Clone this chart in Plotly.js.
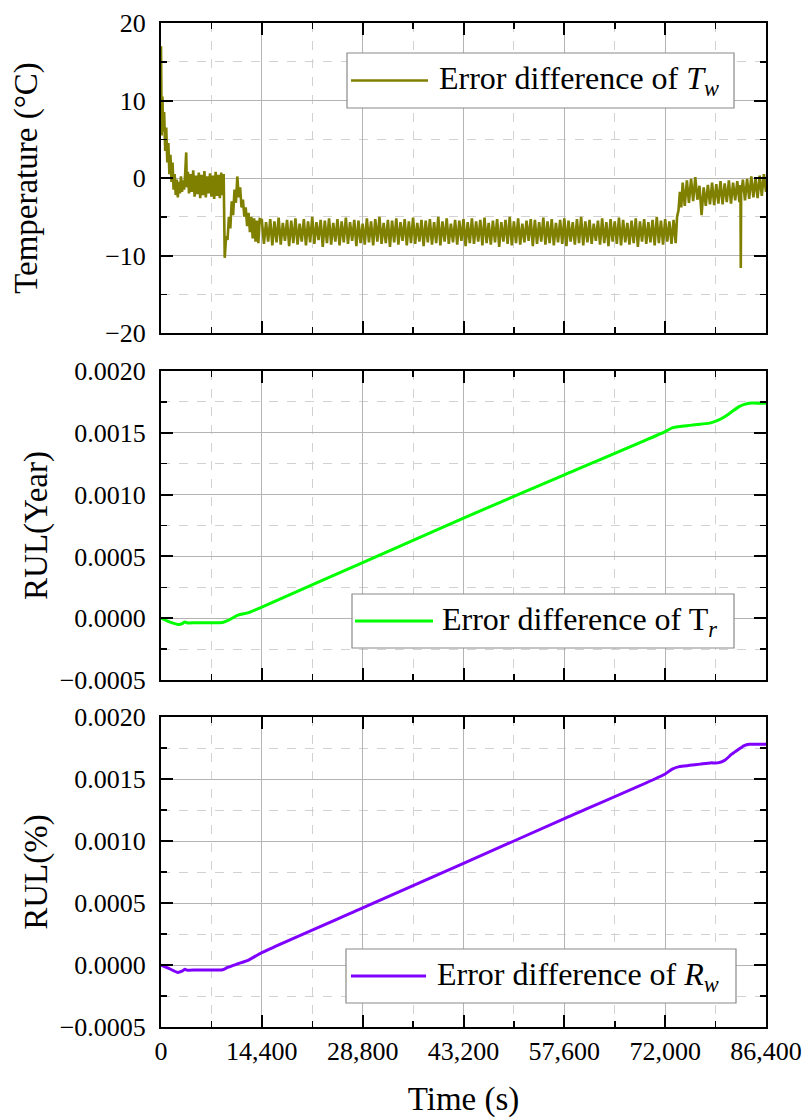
<!DOCTYPE html>
<html>
<head>
<meta charset="utf-8">
<script src="https://cdn.plot.ly/plotly-3.0.1.min.js"></script>
<style>html,body{margin:0;padding:0;background:#fff;}#chart{width:805px;height:1120px;}</style>
</head>
<body>
<div id="chart"></div>
<script>
// ---------- DATA ----------
// Panel 1: error difference of T_w (°C)
const timeTw = [
  0,100,200,300,450,600,750,900,1050,1200,1350,1500,1650,1800,1950,2100,2250,2400,2550,2700,
  2850,3000,3150,3300,3450,3600,3700,3850,4000,4200,4400,4600,4800,5000,5200,5400,5600,5800,6000,6200,
  6400,6600,6800,7000,7200,7400,7600,7800,8000,8200,8400,8600,8800,8950,9100,9300,9500,9700,9900,10100,
  10300,10500,10700,10900,11100,11300,11500,11700,11900,12100,12300,12500,12700,12900,13100,13300,13500,13700,13900,14100,
  14400,14700,15000,15300,15600,15900,16200,16500,16800,17100,
  17400,17700,18000,18300,18600,18900,19200,19500,19800,20100,
  20400,20700,21000,21300,21600,21900,22200,22500,22800,23100,
  23400,23700,24000,24300,24600,24900,25200,25500,25800,26100,
  26400,26700,27000,27300,27600,27900,28200,28500,28800,29100,
  29400,29700,30000,30300,30600,30900,31200,31500,31800,32100,
  32400,32700,33000,33300,33600,33900,34200,34500,34800,35100,
  35400,35700,36000,36300,36600,36900,37200,37500,37800,38100,
  38400,38700,39000,39300,39600,39900,40200,40500,40800,41100,
  41400,41700,42000,42300,42600,42900,43200,43500,43800,44100,
  44400,44700,45000,45300,45600,45900,46200,46500,46800,47100,
  47400,47700,48000,48300,48600,48900,49200,49500,49800,50100,
  50400,50700,51000,51300,51600,51900,52200,52500,52800,53100,
  53400,53700,54000,54300,54600,54900,55200,55500,55800,56100,
  56400,56700,57000,57300,57600,57900,58200,58500,58800,59100,
  59400,59700,60000,60300,60600,60900,61200,61500,61800,62100,
  62400,62700,63000,63300,63600,63900,64200,64500,64800,65100,
  65400,65700,66000,66300,66600,66900,67200,67500,67800,68100,
  68400,68700,69000,69300,69600,69900,70200,70500,70800,71100,
  71400,71700,72000,72300,72600,72900,73200,73500,73700,73900,74100,74300,
  74500,74800,75100,75400,75700,76000,76300,76600,76900,77200,
  77500,77800,78100,78400,78700,79000,79300,79600,79900,80200,
  80500,80800,81100,81400,81700,82000,82300,82600,82750,82800,82850,
  83100,83400,83700,84000,84300,84600,84900,85200,85500,85800,86100,86400
];
const errTw = [
  17,5.5,10.5,6,8.5,3.5,6.5,2,4.5,0.5,3,-0.5,2,-1.5,0.5,-2.2,-0.2,-2.5,-0.5,-2.0,
  0.2,-1.8,-0.3,-1.5,0.5,3.3,-1.2,0.8,-2.0,0.5,-1.8,1.0,-2.4,0.3,-2.1,0.7,-2.6,0.4,-2.2,0.9,
  -2.5,0.2,-2.0,0.6,-2.4,0.3,-2.7,0.8,-2.3,0.4,-2.6,0.7,-2.2,0.5,-10.3,-7.5,-8.0,-5.0,-6.5,-3.0,
  -4.8,-1.5,-3.2,0.2,-2.5,-1.2,-3.8,-2.8,-5.0,-3.8,-6.2,-4.5,-7.0,-5.0,-7.8,-5.2,-8.2,-5.5,-8.4,-5.3,
  -5.4,-8.5,-5.7,-8.2,-5.3,-8.7,-5.6,-8.3,-5.1,-8.6,
  -5.8,-8.1,-5.4,-8.8,-5.5,-8.4,-5.2,-8.6,-5.9,-8.2,
  -5.3,-8.7,-5.6,-8.3,-5.0,-8.5,-5.7,-8.0,-5.4,-8.9,
  -5.5,-8.4,-5.2,-8.6,-5.8,-8.2,-5.3,-8.7,-5.6,-8.3,
  -5.1,-8.5,-5.7,-8.1,-5.4,-8.8,-5.5,-8.4,-5.9,-8.6,
  -5.2,-8.3,-5.6,-8.7,-5.3,-8.2,-5.0,-8.5,-5.8,-8.4,
  -5.4,-8.9,-5.5,-8.3,-5.2,-8.6,-5.7,-8.1,-5.3,-8.7,
  -5.6,-8.4,-5.1,-8.5,-5.8,-8.2,-5.4,-8.8,-5.5,-8.3,
  -5.3,-8.6,-5.7,-8.4,-5.0,-8.7,-5.6,-8.2,-5.2,-8.5,
  -5.9,-8.3,-5.4,-8.6,-5.5,-8.1,-5.3,-8.8,-5.7,-8.4,
  -5.2,-8.5,-5.6,-8.2,-5.4,-8.7,-5.1,-8.4,-5.8,-8.6,
  -5.5,-8.3,-5.3,-8.9,-5.7,-8.2,-5.4,-8.5,-5.0,-8.7,
  -5.6,-8.4,-5.2,-8.6,-5.9,-8.3,-5.5,-8.1,-5.3,-8.8,
  -5.4,-8.5,-5.7,-8.2,-5.1,-8.6,-5.6,-8.4,-5.3,-8.7,
  -5.8,-8.3,-5.4,-8.5,-5.2,-8.8,-5.5,-8.2,-5.7,-8.6,
  -5.3,-8.4,-5.0,-8.7,-5.6,-8.3,-5.4,-8.5,-5.9,-8.1,
  -5.5,-8.6,-5.2,-8.4,-5.7,-8.8,-5.3,-8.2,-5.6,-8.5,
  -5.1,-8.7,-5.4,-8.3,-5.8,-8.6,-5.5,-8.4,-5.2,-8.9,
  -5.6,-8.2,-5.3,-8.5,-5.7,-8.3,-5.4,-8.7,-5.0,-8.4,
  -5.5,-8.6,-5.3,-8.2,-5.6,-8.5,-5.4,-8.4,-5.0,-4.2,-1.8,-3.8,
  -0.6,-3.6,-0.3,-3.2,-0.1,-3.0,0.1,-2.8,-1.0,-4.8,
  -1.2,-3.6,-0.9,-3.4,-0.6,-3.5,-0.8,-3.3,-0.4,-3.4,
  -0.7,-3.1,-0.3,-3.3,-0.6,-2.9,-0.4,-3.1,-0.9,-11.6,-2.0,
  -0.2,-2.9,-0.1,-2.7,0.2,-2.5,0.0,-2.6,0.3,-2.3,0.5,-1.8
];

// Panel 2: error difference of T_r (RUL, year)
const timeTr = [0,1200,2400,3000,3400,3800,5000,7000,8800,9500,11000,12500,14400,28800,43200,57600,72000,73000,74000,75500,77000,78500,79500,80500,81500,82500,83300,84000,85000,86400];
const errTr  = [0,-0.00003,-0.00005,-0.000045,-0.00003,-0.000038,-0.000037,-0.000036,-0.000034,-0.00002,0.000025,0.000045,0.00009,0.00045,0.00081,0.00116,0.00151,0.00154,0.00155,0.00156,0.00157,0.00158,0.0016,0.00163,0.00167,0.00171,0.00173,0.00174,0.00174,0.00174];

// Panel 3: error difference of R_w (RUL, %)
const timeRw = [0,1200,2400,3000,3400,3800,5000,7000,8800,9500,11000,12500,14400,28800,43200,57600,72000,73000,74000,75500,77000,78500,79500,80500,81500,82500,83300,84000,85000,86400];
const errRw  = [0,-0.00003,-0.00006,-0.00005,-0.000035,-0.000042,-0.00004,-0.00004,-0.000038,-0.00002,0.00001,0.00004,0.0001,0.00046,0.00082,0.00118,0.00154,0.00158,0.0016,0.00161,0.00162,0.00163,0.00163,0.00165,0.0017,0.00174,0.00177,0.00178,0.00178,0.00178];

const xTicks = [0,14400,28800,43200,57600,72000,86400];
const seriesNames = ['Error difference of <i>T</i><sub><i>w</i></sub>','Error difference of T<sub><i>r</i></sub>','Error difference of <i>R</i><sub><i>w</i></sub>'];
const yTitles = ['Temperature (°C)','RUL(Year)','RUL(%)'];
const xTitle = 'Time (s)';
const colors = ['#808000','#00ff00','#7f00ff'];

// ---------- LAYOUT ----------
const FONT = '"Liberation Serif", serif';
const W = 805, H = 1120, L = 161, R = 766, T = 23, B = 1027;
const px = x => (x - L) / (R - L);
const py = y => (B - y) / (B - T);

const traces = [
  {x: timeTw, y: errTw, xaxis:'x', yaxis:'y', mode:'lines', line:{color:colors[0], width:2.6}, showlegend:false},
  {x: timeTr, y: errTr, xaxis:'x2', yaxis:'y2', mode:'lines', line:{color:colors[1], width:3, shape:'spline', smoothing:0.6}, showlegend:false},
  {x: timeRw, y: errRw, xaxis:'x3', yaxis:'y3', mode:'lines', line:{color:colors[2], width:3, shape:'spline', smoothing:0.6}, showlegend:false}
];

function xAxis(anchor, labels){
  return {
    anchor: anchor, range:[0,86400], tickvals: xTicks, tickformat:',d',
    showticklabels: labels, ticks:'inside', ticklen:12, tickwidth:2, tickcolor:'#000',
    showline:true, linewidth:2, linecolor:'#000', mirror:'allticks',
    showgrid:true, gridcolor:'#b4b4b4', gridwidth:1, zeroline:false,
    minor:{dtick:7200, tick0:0, ticks:'inside', ticklen:6, tickwidth:1.5, tickcolor:'#000', showgrid:true, gridcolor:'#d2d2d2', griddash:'dash', gridwidth:1},
    tickfont:{family:FONT, size:26, color:'#000'}
  };
}
function yAxis(domain, range, dtick, fmt, title, standoff){
  return {
    domain: domain, range: range, dtick: dtick, tick0: 0, tickformat: fmt,
    ticks:'inside', ticklen:12, tickwidth:2, tickcolor:'#000', ticklabelstandoff: 8,
    showline:true, linewidth:2, linecolor:'#000', mirror:'allticks',
    showgrid:true, gridcolor:'#b4b4b4', gridwidth:1, zeroline:false,
    minor:{dtick: dtick/2, ticks:'inside', ticklen:6, tickwidth:1.5, tickcolor:'#000', showgrid:true, gridcolor:'#d2d2d2', griddash:'dash', gridwidth:1},
    tickfont:{family:FONT, size:26, color:'#000'},
    title:{text:title, font:{family:FONT, size:33, color:'#000'}, standoff: standoff},
    automargin:false
  };
}

const x1 = xAxis('y', false), x2 = xAxis('y2', false), x3 = xAxis('y3', true);
x3.title = {text: xTitle, font:{family:FONT, size:33, color:'#000'}, standoff: 22};
x3.automargin = false;

const y1 = yAxis([py(333), 1], [-20,20], 10, 'd', yTitles[0], 58); y1.anchor = 'x';
const y2 = yAxis([py(680), py(371)], [-0.0005,0.002], 0.0005, '.4f', yTitles[1], 2); y2.anchor = 'x2';
const y3 = yAxis([0, py(717)], [-0.0005,0.002], 0.0005, '.4f', yTitles[2], 2); y3.anchor = 'x3';

// custom legend boxes (positions in pixels of the page)
const legends = [
  {box:[347,53,734,108], line:[351,428], text:437, color:colors[0], lw:2.6, name:seriesNames[0]},
  {box:[352,594,734,648], line:[355,433], text:440, color:colors[1], lw:3, name:seriesNames[1]},
  {box:[346,949,736,1003], line:[351,426], text:435, color:colors[2], lw:3, name:seriesNames[2]}
];
const shapes = [], annotations = [];
legends.forEach(lg => {
  const cy = (lg.box[1] + lg.box[3]) / 2;
  shapes.push({type:'rect', xref:'paper', yref:'paper', x0:px(lg.box[0]), x1:px(lg.box[2]), y0:py(lg.box[3]), y1:py(lg.box[1]),
    line:{color:'#8a8a8a', width:1.2}, fillcolor:'#ffffff', layer:'above'});
  shapes.push({type:'line', xref:'paper', yref:'paper', x0:px(lg.line[0]), x1:px(lg.line[1]), y0:py(cy), y1:py(cy),
    line:{color:lg.color, width:lg.lw}, layer:'above'});
  annotations.push({xref:'paper', yref:'paper', x:px(lg.text), y:py(cy), xanchor:'left', yanchor:'middle',
    text:lg.name, showarrow:false, font:{family:FONT, size:32, color:'#000'}});
});

const layout = {
  width:W, height:H, paper_bgcolor:'#fff', plot_bgcolor:'#fff',
  margin:{l:L, r:W-R, t:T, b:H-B, pad:0},
  showlegend:false,
  xaxis:x1, xaxis2:x2, xaxis3:x3, yaxis:y1, yaxis2:y2, yaxis3:y3,
  shapes: shapes, annotations: annotations,
  font:{family:FONT, color:'#000'}
};

Plotly.newPlot('chart', traces, layout, {staticPlot:true, displayModeBar:false});
</script>
</body>
</html>
